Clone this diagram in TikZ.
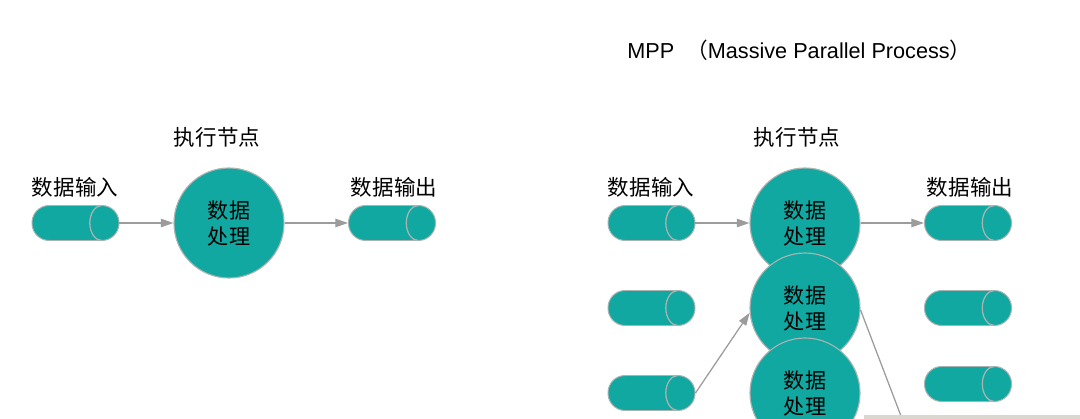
\documentclass[tikz,border=0pt]{standalone}
\usepackage{fontspec}
\setmainfont{Noto Sans CJK SC}
\newfontfamily\latfont{Liberation Sans}
\usetikzlibrary{arrows.meta}
\definecolor{teal1}{HTML}{10A8A0}
\definecolor{edge1}{HTML}{A9B4B2}
\definecolor{arr1}{HTML}{9C9C9C}
\definecolor{box1}{HTML}{DAD6D0}
\def\pxu{0.025cm}
\tikzset{
  lbl/.style={inner sep=0pt, font=\fontsize{15.3pt}{18pt}\selectfont},
  proc/.style={circle, fill=teal1, draw=edge1, line width=0.8pt, minimum size={110*\pxu}, inner sep=0pt, align=center, font=\fontsize{15pt}{18.5pt}\selectfont},
  store/.style={rectangle, rounded corners=0.43cm, fill=teal1, draw=edge1, line width=0.7pt, minimum width={87*\pxu}, minimum height={35*\pxu}, inner sep=0pt,
    path picture={\draw[edge1, line width=0.9pt] ([xshift=-0.43cm]path picture bounding box.north east) arc[start angle=90, end angle=270, x radius=0.3cm, y radius=0.4375cm];}},
  flow/.style={draw=arr1, line width=0.9pt, -{Triangle[length=9pt,width=6pt]}},
  link/.style={draw=arr1, line width=0.9pt},
}
\begin{document}
\begin{tikzpicture}[x=\pxu,y=-\pxu]
\clip (0,0) rectangle (1080,419);
\fill[white] (0,0) rectangle (1080,419);
% left part
\node[lbl] (tl) at (217,137) {执行节点};
\node[lbl] (il) at (75,187) {数据输入};
\node[lbl] (ol) at (394,187) {数据输出};
\node[store] (inL) at (75.5,223) {};
\node[proc] (pL) at (229,223) {数据\\处理};
\node[store] (outL) at (392,223) {};
\draw[flow] (inL) -- (pL);
\draw[flow] (pL) -- (outL);
% right part
\node[inner sep=0pt, anchor=west, font=\fontsize{15.4pt}{19pt}\selectfont] (title) at (627,50) {{\latfont MPP}\hspace{0.3cm}（{\latfont Massive Parallel Process}）};
\node[lbl] (tr) at (797,137) {执行节点};
\node[lbl] (ir) at (651,187) {数据输入};
\node[lbl] (or) at (970,187) {数据输出};
\node[store] (in1) at (651.5,223) {};
\node[store] (in2) at (651.5,308) {};
\node[store] (in3) at (651.5,393) {};
\node[store] (out1) at (968,223) {};
\node[store] (out2) at (968,308) {};
\node[store] (out3) at (968,384) {};
\node[proc] (p1) at (805,223) {数据\\处理};
\node[proc] (p2) at (805,308) {数据\\处理};
\node[proc] (p3) at (805,393) {数据\\处理};
\draw[flow] (in1) -- (p1);
\draw[flow] (p1) -- (out1);
\draw[flow] (in3.east) -- (p2.185);
\coordinate (lend) at (901,416);
\draw[link] (p2.-2) -- (lend);
\fill[box1] (864,415) rectangle (1080,419);
\end{tikzpicture}
\end{document}
